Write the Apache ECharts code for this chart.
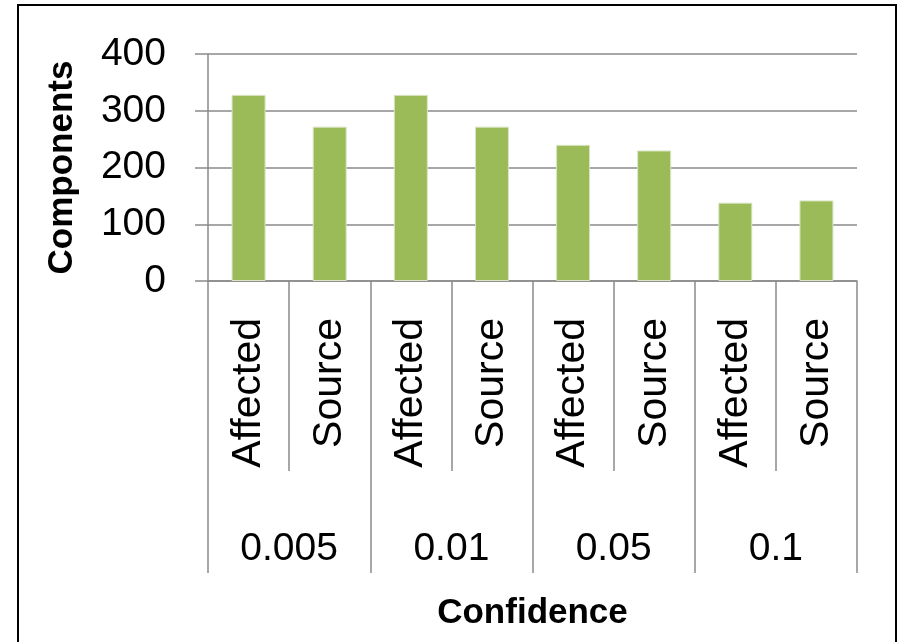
<!DOCTYPE html>
<html>
<head>
<meta charset="utf-8">
<script src="https://cdn.jsdelivr.net/npm/echarts@6/dist/echarts.min.js"></script>
<style>
  html, body { margin: 0; padding: 0; background: #fff; }
  #chart { width: 898px; height: 642px; }
</style>
</head>
<body>
<div id="chart"></div>
<script>
// Component counts per confidence level, split into affected / source
const kinds = ['Affected', 'Source', 'Affected', 'Source', 'Affected', 'Source', 'Affected', 'Source'];
const confidenceLevels = ['0.005', '0.01', '0.05', '0.1'];
const components = [328, 272, 328, 272, 240, 230, 138, 142];
const yTicks = { min: 0, max: 400, interval: 100 };

const FONT = '"Liberation Sans", Arial, sans-serif';
const GRID_GREY = '#8a8a8a';

const chart = echarts.init(document.getElementById('chart'), null, { renderer: 'canvas' });

chart.setOption({
  backgroundColor: '#ffffff',
  animation: false,
  grid: { left: 208, right: 41, top: 54, bottom: 361, containLabel: false },
  graphic: [{
    type: 'rect',
    shape: { x: 18, y: 5, width: 878, height: 660 },
    style: { fill: 'none', stroke: '#000', lineWidth: 2 },
    silent: true
  }],
  xAxis: [
    {
      type: 'category',
      data: kinds,
      position: 'bottom',
      axisLine: { show: true, lineStyle: { color: GRID_GREY, width: 1.5 } },
      axisTick: { show: true, length: 190, lineStyle: { color: GRID_GREY, width: 1.5 } },
      axisLabel: {
        rotate: 90, margin: 37, color: '#000',
        fontFamily: FONT, fontSize: 41
      },
      splitLine: { show: false }
    },
    {
      type: 'category',
      data: confidenceLevels,
      position: 'bottom',
      axisLine: { show: false },
      axisTick: { show: true, length: 292, lineStyle: { color: GRID_GREY, width: 1.5 } },
      axisLabel: {
        margin: 249, color: '#000',
        fontFamily: FONT, fontSize: 39
      },
      splitLine: { show: false },
      name: 'Confidence',
      nameLocation: 'middle',
      nameGap: 315,
      nameTextStyle: { color: '#000', fontFamily: FONT, fontSize: 35, fontWeight: 'bold' }
    }
  ],
  yAxis: {
    type: 'value',
    min: yTicks.min, max: yTicks.max, interval: yTicks.interval,
    axisLine: { show: true, lineStyle: { color: GRID_GREY, width: 1.5 } },
    axisTick: { show: true, length: 13, lineStyle: { color: GRID_GREY, width: 1.5 } },
    axisLabel: { margin: 42, color: '#000', fontFamily: FONT, fontSize: 39 },
    splitLine: { show: true, lineStyle: { color: GRID_GREY, width: 1.5 } },
    name: 'Components',
    nameLocation: 'middle',
    nameGap: 128,
    nameRotate: 90,
    nameTextStyle: { color: '#000', fontFamily: FONT, fontSize: 35, fontWeight: 'bold' }
  },
  series: [{
    type: 'bar',
    xAxisIndex: 0,
    data: components,
    barWidth: 34,
    itemStyle: { color: '#9bbb59', borderColor: '#d9e5c2', borderWidth: 1 }
  }]
});
</script>
</body>
</html>
